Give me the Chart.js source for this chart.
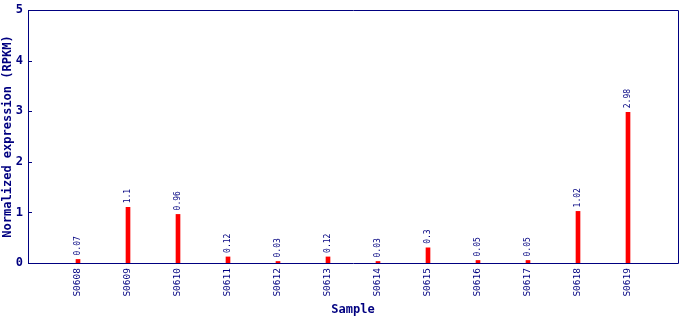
<!DOCTYPE html>
<html>
<head>
<meta charset="utf-8">
<script src="https://cdn.jsdelivr.net/npm/chart.js@4.4.1/dist/chart.umd.min.js"></script>
<style>
  html, body { margin: 0; padding: 0; background: #fff; }
  #wrap { width: 690px; height: 320px; position: relative; }
</style>
</head>
<body>
<div id="wrap"><canvas id="expr-chart"></canvas></div>
<script>
// Samples and their expression values (blank entries pad the ends of the axis)
const samples = ['', 'S0608', 'S0609', 'S0610', 'S0611', 'S0612', 'S0613', 'S0614', 'S0615', 'S0616', 'S0617', 'S0618', 'S0619', ''];
const rpkm = [null, 0.07, 1.1, 0.96, 0.12, 0.03, 0.12, 0.03, 0.3, 0.05, 0.05, 1.02, 2.98, null];
const valueLabels = ['', '0.07', '1.1', '0.96', '0.12', '0.03', '0.12', '0.03', '0.3', '0.05', '0.05', '1.02', '2.98', ''];
const yTicks = [0, 1, 2, 3, 4, 5];

const NAVY = '#000080';
const MONO = '"DejaVu Sans Mono", "Liberation Mono", monospace';

// frame around plot + inward ticks on the y axis
const framePlugin = {
  id: 'frame',
  afterDatasetsDraw(chart) {
    const { ctx, chartArea: a, scales } = chart;
    ctx.save();
    ctx.strokeStyle = NAVY;
    ctx.lineWidth = 1;
    ctx.beginPath();
    ctx.moveTo(a.left + 0.5, a.top + 0.5);
    ctx.lineTo(a.right + 0.5, a.top + 0.5);
    ctx.lineTo(a.right + 0.5, a.bottom + 0.5);
    ctx.lineTo(a.left + 0.5, a.bottom + 0.5);
    ctx.closePath();
    ctx.stroke();
    yTicks.forEach(t => {
      const y = Math.round(scales.y.getPixelForValue(t)) + 0.5;
      ctx.beginPath();
      ctx.moveTo(a.left, y);
      ctx.lineTo(a.left + 4, y);
      ctx.stroke();
    });
    ctx.restore();
  }
};

// rotated value labels above the bars
const valuePlugin = {
  id: 'values',
  afterDatasetsDraw(chart) {
    const { ctx, scales } = chart;
    ctx.save();
    ctx.fillStyle = NAVY;
    ctx.font = '8px ' + MONO;
    ctx.textAlign = 'left';
    ctx.textBaseline = 'middle';
    rpkm.forEach((v, i) => {
      if (v === null) return;
      const x = scales.x.getPixelForValue(i);
      const y = scales.y.getPixelForValue(v);
      ctx.save();
      ctx.translate(x, y - 4);
      ctx.rotate(-Math.PI / 2);
      ctx.fillText(valueLabels[i], 0, 0);
      ctx.restore();
    });
    ctx.restore();
  }
};

new Chart(document.getElementById('expr-chart'), {
  type: 'bar',
  data: {
    labels: samples,
    datasets: [{
      data: rpkm,
      backgroundColor: '#ff0000',
      borderWidth: 0,
      barThickness: 4
    }]
  },
  options: {
    responsive: true,
    maintainAspectRatio: false,
    animation: false,
    layout: { padding: { top: 10, right: 12, left: 0, bottom: 0 } },
    plugins: {
      legend: { display: false },
      tooltip: { enabled: false }
    },
    scales: {
      x: {
        offset: false,
        grid: { display: false, drawTicks: false },
        border: { display: false },
        ticks: {
          color: NAVY,
          font: { family: MONO, size: 9.5 },
          minRotation: 90,
          maxRotation: 90,
          autoSkip: false,
          padding: 5
        },
        title: {
          display: true,
          text: 'Sample',
          color: NAVY,
          font: { family: MONO, size: 12, weight: 'bold' },
          padding: { top: 2, bottom: 3 }
        },
        afterFit(scale) {
          scale.height = 57;
          scale.paddingLeft = 0;
          scale.paddingRight = 0;
        }
      },
      y: {
        min: 0,
        max: 5,
        afterBuildTicks(scale) { scale.ticks = yTicks.map(v => ({ value: v })); },
        grid: { display: false, drawTicks: false },
        border: { display: false },
        ticks: {
          color: NAVY,
          font: { family: MONO, size: 12, weight: 'bold' },
          padding: 5
        },
        title: {
          display: true,
          text: 'Normalized expression (RPKM)',
          color: NAVY,
          font: { family: MONO, size: 12, weight: 'bold' },
          padding: { top: 1, bottom: 0 }
        },
        afterFit(scale) {
          scale.width = 28;
          scale.paddingTop = 0;
          scale.paddingBottom = 0;
        }
      }
    }
  },
  plugins: [framePlugin, valuePlugin]
});
</script>
</body>
</html>
